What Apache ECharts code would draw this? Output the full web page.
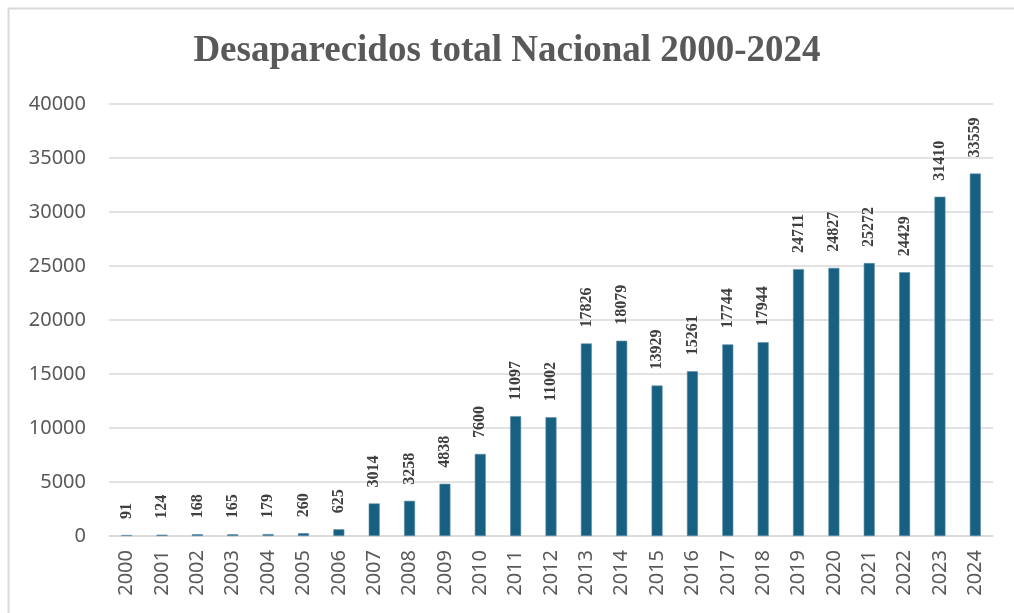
<!DOCTYPE html>
<html><head><meta charset="utf-8">
<script src="https://cdn.jsdelivr.net/npm/echarts@6/dist/echarts.min.js"></script>
<style>html,body{margin:0;padding:0;background:#fff}#c{width:1014px;height:613px}</style>
</head><body><div id="c"></div>
<script>
const titleText = 'Desaparecidos total Nacional 2000-2024';
const years = ['2000','2001','2002','2003','2004','2005','2006','2007','2008','2009','2010','2011','2012','2013','2014','2015','2016','2017','2018','2019','2020','2021','2022','2023','2024'];
const values = [91,124,168,165,179,260,625,3014,3258,4838,7600,11097,11002,17826,18079,13929,15261,17744,17944,24711,24827,25272,24429,31410,33559];
const yTicks = [0,5000,10000,15000,20000,25000,30000,35000,40000];

const chart = echarts.init(document.getElementById('c'), null, {renderer:'canvas'});
chart.setOption({
  animation:false,
  backgroundColor:'#fff',
  graphic:[{type:'rect',shape:{x:8.5,y:8.5,width:1020,height:620},style:{fill:'none',stroke:'#d9d9d9',lineWidth:2},silent:true}],
  title:{text:titleText,left:'center',top:28,textStyle:{fontFamily:'Liberation Serif',fontWeight:'bold',fontSize:37,color:'#595959'}},
  grid:{left:109,right:21,top:104,bottom:77,containLabel:false},
  xAxis:{type:'category',data:years,
    axisLine:{lineStyle:{color:'#d9d9d9',width:1.5}},axisTick:{show:false},
    axisLabel:{rotate:90,interval:0,margin:14,fontFamily:'Noto Sans',fontSize:20,color:'#595959'}},
  yAxis:{type:'value',min:yTicks[0],max:yTicks[yTicks.length-1],interval:5000,
    axisLine:{show:false},axisTick:{show:false},
    splitLine:{lineStyle:{color:'#d9d9d9',width:1.5}},
    axisLabel:{margin:23,fontFamily:'Noto Sans',fontSize:20,color:'#595959',formatter:function(v){return String(v);}}},
  series:[{type:'bar',data:values,barWidth:11,
    itemStyle:{color:'#176082',borderColor:'#5f8fa8',borderWidth:0.6},
    label:{show:true,position:'top',rotate:90,distance:16,align:'left',verticalAlign:'middle',
      fontFamily:'Liberation Serif',fontWeight:'bold',fontSize:16,color:'#404040'}}]
});
</script></body></html>
